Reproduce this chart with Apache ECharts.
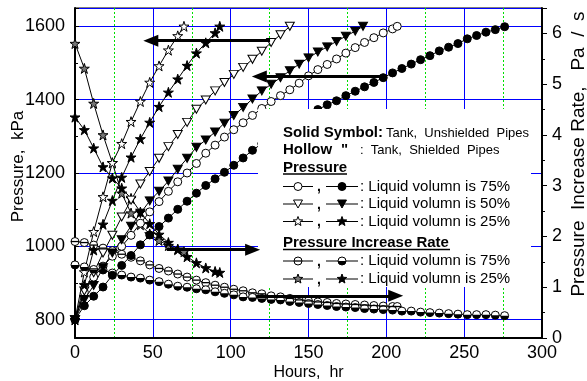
<!DOCTYPE html>
<html>
<head>
<meta charset="utf-8">
<script src="https://cdn.jsdelivr.net/npm/echarts@6/dist/echarts.min.js"></script>
<style>
  html, body { margin: 0; padding: 0; background: #fff; }
  #chart { width: 587px; height: 381px; }
</style>
</head>
<body>
<div id="chart"></div>
<script>
const FONT = '"Liberation Sans", Arial, sans-serif'

// hours of each curve (samples roughly every 6 h)
const hrs75Shielded = [0, 6, 12, 18, 24, 30, 36, 42, 48, 54, 60, 66, 72, 78, 84, 90, 96, 102, 108, 114, 120, 126, 132, 138, 144, 150, 156, 162, 168, 174, 180, 186, 192, 198, 204, 207]
const hrs75Unshielded = [0, 6, 12, 18, 24, 30, 36, 42, 48, 54, 60, 66, 72, 78, 84, 90, 96, 102, 108, 114, 120, 126, 132, 138, 144, 150, 156, 162, 168, 174, 180, 186, 192, 198, 204, 210, 216, 222, 228, 234, 240, 246, 252, 258, 264, 270, 276]
const hrs50Shielded = [0, 6, 12, 18, 24, 30, 36, 42, 48, 54, 60, 66, 72, 78, 84, 90, 96, 102, 108, 114, 120, 126, 132, 138]
const hrs50Unshielded = [0, 6, 12, 18, 24, 30, 36, 42, 48, 54, 60, 66, 72, 78, 84, 90, 96, 102, 108, 114, 120, 126, 132, 138, 144, 150, 156, 162, 168, 174, 180, 185]
const hrs25Shielded = [0, 6, 12, 18, 24, 30, 36, 42, 48, 54, 60, 66, 70]
const hrs25Unshielded = [0, 6, 12, 18, 24, 30, 36, 42, 48, 54, 60, 66, 72, 78, 84, 90, 93]

// pressure, kPa
const press75Shielded = [800, 875, 916, 946, 973, 1000, 1030, 1063, 1094, 1122, 1150, 1176, 1200, 1226, 1254, 1276, 1298, 1318, 1337, 1357, 1376, 1395, 1411, 1427, 1445, 1465, 1482, 1496, 1511, 1527, 1542, 1556, 1569, 1582, 1593, 1600]
const press75Unshielded = [800, 838, 864, 889, 921, 948, 975, 1004, 1031, 1054, 1077, 1101, 1123, 1145, 1166, 1184, 1202, 1221, 1241, 1262, 1280, 1297, 1313, 1329, 1345, 1360, 1373, 1386, 1397, 1411, 1423, 1435, 1447, 1460, 1473, 1485, 1497, 1509, 1520, 1533, 1543, 1553, 1566, 1575, 1584, 1591, 1599]
const press50Shielded = [800, 878, 928, 982, 1030, 1080, 1126, 1170, 1204, 1240, 1272, 1305, 1338, 1374, 1399, 1424, 1447, 1469, 1488, 1510, 1532, 1556, 1577, 1600]
const press50Unshielded = [800, 855, 893, 942, 982, 1018, 1055, 1090, 1124, 1150, 1178, 1210, 1240, 1270, 1290, 1312, 1336, 1357, 1379, 1402, 1424, 1442, 1460, 1479, 1497, 1514, 1530, 1544, 1559, 1573, 1587, 1600]
const press25Shielded = [800, 930, 1040, 1135, 1228, 1280, 1340, 1395, 1447, 1492, 1535, 1574, 1600]
const press25Unshielded = [800, 895, 990, 1060, 1125, 1188, 1243, 1293, 1338, 1381, 1420, 1456, 1493, 1527, 1555, 1582, 1600]

// pressure increase rate, Pa/s
const rate75Shielded = [1.90, 1.88, 1.83, 1.77, 1.72, 1.65, 1.59, 1.52, 1.44, 1.37, 1.32, 1.26, 1.20, 1.14, 1.09, 1.04, 1.00, 0.96, 0.93, 0.89, 0.87, 0.83, 0.81, 0.78, 0.75, 0.73, 0.71, 0.70, 0.68, 0.67, 0.66, 0.65, 0.64, 0.63, 0.62, 0.62]
const rate75Unshielded = [1.44, 1.40, 1.35, 1.34, 1.28, 1.24, 1.20, 1.18, 1.14, 1.11, 1.06, 1.02, 1.00, 0.97, 0.95, 0.91, 0.88, 0.85, 0.81, 0.80, 0.78, 0.76, 0.75, 0.72, 0.70, 0.68, 0.66, 0.64, 0.62, 0.61, 0.60, 0.58, 0.57, 0.56, 0.55, 0.53, 0.53, 0.51, 0.50, 0.49, 0.48, 0.47, 0.46, 0.46, 0.46, 0.45, 0.44]
const rate25Shielded = [5.80, 5.31, 4.62, 4.00, 3.45, 2.85, 2.46, 2.23, 2.05, 1.92, 1.82, 1.74, 1.70]
const rate25Unshielded = [4.35, 4.10, 3.74, 3.37, 3.15, 2.95, 2.75, 2.48, 2.25, 2.04, 1.88, 1.75, 1.60, 1.48, 1.38, 1.31, 1.29]

// annotation arrows: [from hr, to hr, kPa]
const arrows = [
  [125.3, 48.7, 1561],
  [198, 118.4, 1463],
  [59, 114.1, 991],
  [116.3, 206, 865]
]

const STAR = 'path://M50,0 L61.8,36.2 L100,36.2 L69.1,58.8 L80.9,95.1 L50,72.7 L19.1,95.1 L30.9,58.8 L0,36.2 L38.2,36.2 Z'
const HALF_DISK = 'path://M0,0 A50,50 0 0,0 100,0 Z'

function pairs(hrs, vals) {
  return hrs.map((h, i) => [h, vals[i]])
}

function curve(name, hrs, vals, axis, symbol, size, fill, extra) {
  return Object.assign({
    name,
    type: 'line',
    yAxisIndex: axis,
    data: pairs(hrs, vals),
    symbol,
    symbolSize: size,
    showSymbol: true,
    silent: true,
    animation: false,
    lineStyle: { color: '#000', width: 1 },
    itemStyle: { color: fill, borderColor: '#000', borderWidth: 1 },
    z: 2
  }, extra || {})
}

// symbols drawn on top of another curve, no line
function overlay(hrs, vals, axis, symbol, size, offset) {
  return {
    type: 'line',
    yAxisIndex: axis,
    data: pairs(hrs, vals),
    symbol,
    symbolSize: size,
    symbolOffset: offset,
    showSymbol: true,
    silent: true,
    animation: false,
    lineStyle: { width: 0, opacity: 0 },
    itemStyle: { color: '#000', borderWidth: 0 },
    z: 3
  }
}

const series = [
  curve('r75s', hrs75Shielded, rate75Shielded, 1, 'circle', 8, '#fff'),
  overlay(hrs75Shielded, rate75Shielded, 1, 'rect', [8, 1.3], [0, 0]),
  curve('r75u', hrs75Unshielded, rate75Unshielded, 1, 'circle', 8, '#fff'),
  overlay(hrs75Unshielded, rate75Unshielded, 1, HALF_DISK, [8, 4], [0, 2]),
  curve('r25s', hrs25Shielded, rate25Shielded, 1, STAR, 10, '#777'),
  curve('r25u', hrs25Unshielded, rate25Unshielded, 1, STAR, 10, '#000'),
  curve('p75s', hrs75Shielded, press75Shielded, 0, 'circle', 8, '#fff'),
  curve('p75u', hrs75Unshielded, press75Unshielded, 0, 'circle', 8, '#000'),
  curve('p50s', hrs50Shielded, press50Shielded, 0, 'triangle', [9, 8], '#fff', { symbolRotate: 180 }),
  curve('p50u', hrs50Unshielded, press50Unshielded, 0, 'triangle', [9, 8], '#000', { symbolRotate: 180 }),
  curve('p25s', hrs25Shielded, press25Shielded, 0, STAR, 10, '#fff'),
  curve('p25u', hrs25Unshielded, press25Unshielded, 0, STAR, 10, '#000'),
  {
    type: 'line',
    yAxisIndex: 0,
    data: [],
    silent: true,
    animation: false,
    markLine: {
      silent: true,
      animation: false,
      z: 60,
      symbol: ['none', 'triangle'],
      symbolSize: [12, 15],
      label: { show: false },
      lineStyle: { color: '#000', width: 3, type: 'solid' },
      data: arrows.map(a => [{ coord: [a[0], a[2]] }, { coord: [a[1], a[2]] }])
    }
  }
]

// legend box, drawn over the curves
const LX = 283
const legend = [
  { type: 'rect', shape: { x: 258, y: 109, width: 273, height: 178 }, style: { fill: '#fff' }, z: 50 }
]

function txt(x, y, text, font) {
  legend.push({ type: 'text', x, y, style: { text, font, fill: '#000', verticalAlign: 'middle' }, z: 52 })
}
function seg(x1, x2, y, w) {
  legend.push({ type: 'line', shape: { x1, y1: y, x2, y2: y }, style: { stroke: '#000', lineWidth: w || 1 }, z: 51 })
}
function starPts(cx, cy, r) {
  const pts = []
  for (let i = 0; i < 10; i++) {
    const rr = i % 2 === 0 ? r : r * 0.42
    const a = -Math.PI / 2 + i * Math.PI / 5
    pts.push([cx + rr * Math.cos(a), cy + rr * Math.sin(a)])
  }
  return pts
}
function mark(kind, cx, cy, fill) {
  const st = { fill, stroke: '#000', lineWidth: 1 }
  if (kind === 'circle') legend.push({ type: 'circle', shape: { cx, cy, r: 4 }, style: st, z: 53 })
  if (kind === 'tri') legend.push({ type: 'polygon', shape: { points: [[cx - 4.5, cy - 4], [cx + 4.5, cy - 4], [cx, cy + 4]] }, style: st, z: 53 })
  if (kind === 'star') legend.push({ type: 'polygon', shape: { points: starPts(cx, cy, 5) }, style: st, z: 53 })
  if (kind === 'bar') {
    legend.push({ type: 'circle', shape: { cx, cy, r: 4 }, style: st, z: 53 })
    legend.push({ type: 'line', shape: { x1: cx - 4, y1: cy, x2: cx + 4, y2: cy }, style: { stroke: '#000', lineWidth: 1.3 }, z: 54 })
  }
  if (kind === 'half') {
    legend.push({ type: 'circle', shape: { cx, cy, r: 4 }, style: st, z: 53 })
    legend.push({ type: 'sector', shape: { cx, cy, r: 4, startAngle: 0, endAngle: Math.PI }, style: { fill: '#000' }, z: 54 })
  }
}
function row(y, a, fa, b, fb, label) {
  seg(LX, 313, y); mark(a, 298, y, fa)
  txt(317, y + 1, ',', 'bold 14px ' + FONT)
  seg(326, 358, y); mark(b, 342, y, fb)
  txt(360, y, ': ' + label, '15px ' + FONT)
}

txt(LX, 133, 'Solid Symbol:', 'bold 15px ' + FONT)
txt(386, 133, 'Tank,  Unshielded  Pipes', '13px ' + FONT)
txt(LX, 150, 'Hollow', 'bold 15px ' + FONT)
txt(341, 150, '"', 'bold 15px ' + FONT)
txt(360, 150, ':  Tank,  Shielded  Pipes', '13px ' + FONT)
txt(LX, 167.5, 'Pressure', 'bold 15px ' + FONT)
seg(LX, 347, 174, 1.5)
row(186.5, 'circle', '#fff', 'circle', '#000', 'Liquid volumn is 75%')
row(204, 'tri', '#fff', 'tri', '#000', 'Liquid volumn is 50%')
row(221.5, 'star', '#fff', 'star', '#000', 'Liquid volumn is 25%')
txt(LX, 243, 'Pressure Increase Rate', 'bold 15px ' + FONT)
seg(LX, 450, 249.5, 1.5)
row(261, 'bar', '#fff', 'half', '#fff', 'Liquid volumn is 75%')
row(279, 'star', '#777', 'star', '#000', 'Liquid volumn is 25%')

const chart = echarts.init(document.getElementById('chart'), null, { renderer: 'canvas' })
chart.setOption({
  animation: false,
  backgroundColor: '#fff',
  textStyle: { fontFamily: FONT, color: '#000' },
  grid: {
    left: 75, right: 45, top: 8, bottom: 43,
    outerBoundsMode: 'none',
    show: true, borderColor: '#000', borderWidth: 1, backgroundColor: 'transparent'
  },
  xAxis: {
    type: 'value',
    min: 0,
    max: 300,
    interval: 50,
    name: 'Hours,  hr',
    nameLocation: 'middle',
    nameMoveOverlap: false,
    nameGap: 27,
    nameTextStyle: { fontSize: 16, color: '#000', fontFamily: FONT },
    axisLine: { onZero: false, lineStyle: { color: '#000', width: 2 } },
    axisTick: { show: false },
    axisLabel: { fontSize: 18, color: '#000', margin: 6, fontFamily: FONT },
    splitLine: { show: true, lineStyle: { color: '#0000ff', width: 1 } },
    minorTick: { show: false, splitNumber: 2 },
    minorSplitLine: { show: true, lineStyle: { color: '#00e000', width: 1, type: [2, 2] } }
  },
  yAxis: [
    {
      type: 'value',
      min: 750,
      max: 1650,
      splitNumber: 5,
      name: 'Pressure,  kPa',
      nameLocation: 'middle',
      nameMoveOverlap: false,
      nameGap: 48,
      nameTextStyle: { fontSize: 17, color: '#000', fontFamily: FONT, padding: [0, 0, 0, 13] },
      axisLine: { show: true, onZero: false, lineStyle: { color: '#000', width: 2 } },
      axisTick: { show: true, inside: true, length: 4, lineStyle: { color: '#000' } },
      minorTick: { show: true, splitNumber: 2, length: 3, lineStyle: { color: '#000' } },
      axisLabel: { fontSize: 18, color: '#000', margin: 10, fontFamily: FONT, formatter: v => (v % 200 === 0 ? String(v) : '') },
      splitLine: { show: true, lineStyle: { color: '#0000ff', width: 1 } }
    },
    {
      type: 'value',
      position: 'right',
      min: 0,
      max: 6.5,
      interval: 1,
      name: 'Pressure  Increase Rate,   Pa  /  s',
      nameLocation: 'middle',
      nameMoveOverlap: false,
      nameGap: 27,
      nameTextStyle: { fontSize: 19, color: '#000', fontFamily: FONT, padding: [0, 0, 0, 38] },
      axisLine: { show: true, onZero: false, lineStyle: { color: '#000', width: 2 } },
      axisTick: { show: true, inside: false, length: 5, lineStyle: { color: '#000' } },
      minorTick: { show: true, splitNumber: 2, length: 3, lineStyle: { color: '#000' } },
      axisLabel: { fontSize: 18, color: '#000', margin: 10, fontFamily: FONT, formatter: v => (Number.isInteger(v) ? String(v) : '') },
      splitLine: { show: false }
    }
  ],
  series,
  graphic: { elements: legend }
})
</script>
</body>
</html>
